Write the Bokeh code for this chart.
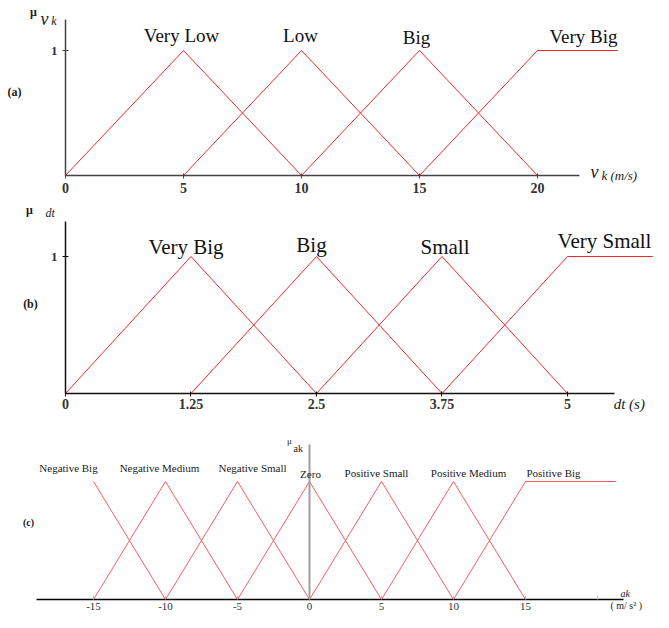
from bokeh.plotting import figure
from bokeh.models import Range1d, FixedTicker, Label, LinearAxis
from bokeh.layouts import column
from bokeh.embed import file_html
from bokeh.resources import INLINE

SERIF = "Liberation Serif"
RED = "#f0282d"

# ---------------- data ----------------
# (a) speed v_k (m/s)
a_sets = ["Very Low", "Low", "Big", "Very Big"]
a_x = [[0, 5, 10], [5, 10, 15], [10, 15, 20], [15, 20, 23.4]]
a_y = [[0, 1, 0], [0, 1, 0], [0, 1, 0], [0, 1, 1]]
a_ticks = [0, 5, 10, 15, 20]

# (b) dt (s)
b_sets = ["Very Big", "Big", "Small", "Very Small"]
b_x = [[0, 1.25, 2.5], [1.25, 2.5, 3.75], [2.5, 3.75, 5], [3.75, 5, 5.85]]
b_y = [[0, 1, 0], [0, 1, 0], [0, 1, 0], [0, 1, 1]]
b_ticks = [0, 1.25, 2.5, 3.75, 5]
b_tick_labels = ["0", "1.25", "2.5", "3.75", "5"]

# (c) ak (m/s^2)
c_sets = ["Negative Big", "Negative Medium", "Negative Small", "Zero",
          "Positive Small", "Positive Medium", "Positive Big"]
c_x = [[-15, -10], [-15, -10, -5], [-10, -5, 0], [-5, 0, 5],
       [0, 5, 10], [5, 10, 15], [10, 15, 21.3]]
c_y = [[1, 0], [0, 1, 0], [0, 1, 0], [0, 1, 0], [0, 1, 0], [0, 1, 0], [0, 1, 1]]
c_ticks = [-15, -10, -5, 0, 5, 10, 15, 20]
c_tick_labels = ["-15", "-10", "-5", "0", "5", "10", "15", ""]

# label offsets (pixels) relative to each set's peak
a_off = [(-2, 15), (-1, 15), (-3, 13), (46, 14)]
b_off = [(-5, 10), (-5, 12), (3, 10), (37, 16)]
c_off = [(-25, 14), (-6, 14), (15, 14), (1, 8), (-5, 9), (15, 9), (28, 9)]


def base_fig(h, xr, yr):
    p = figure(width=653, height=h, x_range=Range1d(*xr), y_range=Range1d(*yr),
               output_backend="svg", toolbar_location=None,
               x_axis_type=None, y_axis_type=None,
               min_border_left=0, min_border_right=0, min_border_top=0,
               min_border_bottom=0)
    p.outline_line_color = None
    p.background_fill_color = "white"
    p.border_fill_color = "white"
    return p


def make_axis(p, side, ticks, bounds, color, width, font_size, bold=True,
              tick_in=2, tick_out=3, standoff=4, overrides=None):
    ax = LinearAxis(fixed_location=0, bounds=bounds)
    ax.ticker = FixedTicker(ticks=ticks)
    ax.axis_line_color = color
    ax.axis_line_width = width
    ax.major_tick_line_color = color
    ax.major_tick_in = tick_in
    ax.major_tick_out = tick_out
    ax.minor_tick_line_color = None
    ax.major_label_text_font = SERIF
    ax.major_label_text_font_size = font_size
    ax.major_label_text_font_style = "bold" if bold else "normal"
    ax.major_label_text_color = "#333333"
    ax.major_label_standoff = standoff
    if overrides:
        ax.major_label_overrides = overrides
    p.add_layout(ax, side)
    return ax


def lab(p, x, y, text, size, style="normal", align="center", base="middle",
        xo=0, yo=0, color="#1a1a1a"):
    p.add_layout(Label(x=x, y=y, text=text, x_offset=xo, y_offset=yo,
                       text_font=SERIF, text_font_size=size, text_font_style=style,
                       text_align=align, text_baseline=base, text_color=color))


# ---------------- panel (a) ----------------
pa = base_fig(198, (-2.754, 24.915), (-0.184, 1.4))
for xs, ys in zip(a_x, a_y):
    pa.line(xs, ys, line_color=RED, line_width=1)
make_axis(pa, "below", a_ticks, (0, 21.8), "#444444", 1.5, "14px", standoff=4)
make_axis(pa, "left", [1], (0, 1.25), "#444444", 1.5, "13px",
          tick_in=3, tick_out=3, standoff=5, overrides={1: "1"})
for name, xs, (dx, dy) in zip(a_sets, a_x, a_off):
    lab(pa, xs[1], 1, name, "19px", xo=dx, yo=dy, color="#111111")
lab(pa, -2.161, 0.672, "(a)", "12px", "bold")
lab(pa, -1.356, 1.312, "\u03bc", "12px", "bold")
lab(pa, -1.06, 1.256, "v", "18px", "italic", align="left")
lab(pa, -0.60, 1.24, "k", "12px", "italic", align="left")
lab(pa, 22.246, 0.032, "v", "18px", "italic", align="left")
lab(pa, 22.71, 0.0, "k (m/s)", "13px", "italic", align="left")

# ---------------- panel (b) ----------------
pb = base_fig(216, (-0.6474, 5.8566), (-0.1533, 1.4234))
for xs, ys in zip(b_x, b_y):
    pb.line(xs, ys, line_color=RED, line_width=1)
make_axis(pb, "below", b_ticks, (0, 5.47), "#111111", 1.5, "14px", standoff=3,
          overrides=dict(zip(b_ticks, b_tick_labels)))
make_axis(pb, "left", [1], (0, 1.255), "#111111", 1.5, "13px",
          tick_in=3, tick_out=3, standoff=5, overrides={1: "1"})
for name, xs, (dx, dy) in zip(b_sets, b_x, b_off):
    lab(pb, xs[1], 1, name, "21px", xo=dx, yo=dy, color="#111111")
lab(pb, -0.349, 0.650, "(b)", "12px", "bold")
lab(pb, -0.359, 1.336, "\u03bc", "12px", "bold")
lab(pb, -0.199, 1.321, "dt", "12px", "italic", align="left")
lab(pb, 5.46, -0.080, "dt (s)", "15px", "italic", align="left")

# ---------------- panel (c) ----------------
pc = base_fig(198, (-21.458, 23.889), (-0.110, 1.568))
for xs, ys in zip(c_x, c_y):
    pc.line(xs, ys, line_color=RED, line_width=1, line_alpha=0.75)
make_axis(pc, "left", [], (0, 1.314), "#a0a0a0", 2, "10px")
cx = make_axis(pc, "below", c_ticks, (-18.96, 21.8), "#000000", 1.5, "11px", bold=False,
               tick_in=4, tick_out=0, standoff=3,
               overrides=dict(zip(c_ticks, c_tick_labels)))
cx.major_tick_line_color = "#bbbbbb"
for name, xs, (dx, dy) in zip(c_sets, c_x, c_off):
    px = xs[0] if len(xs) == 2 else xs[1]
    lab(pc, px, 1, name, "11px", xo=dx, yo=dy)
lab(pc, -19.51, 0.653, "(c)", "10px", "bold")
lab(pc, -1.39, 1.347, "\u03bc", "9px")
lab(pc, -1.111, 1.28, "ak", "10px", align="left")
lab(pc, 21.6, 0.051, "ak", "10px", "italic", align="left")
lab(pc, 20.9, -0.051, "( m/ s\u00b2 )", "10px", align="left")

layout = column(pa, pb, pc, spacing=0)
open("out.html", "w").write(file_html(layout, INLINE))
